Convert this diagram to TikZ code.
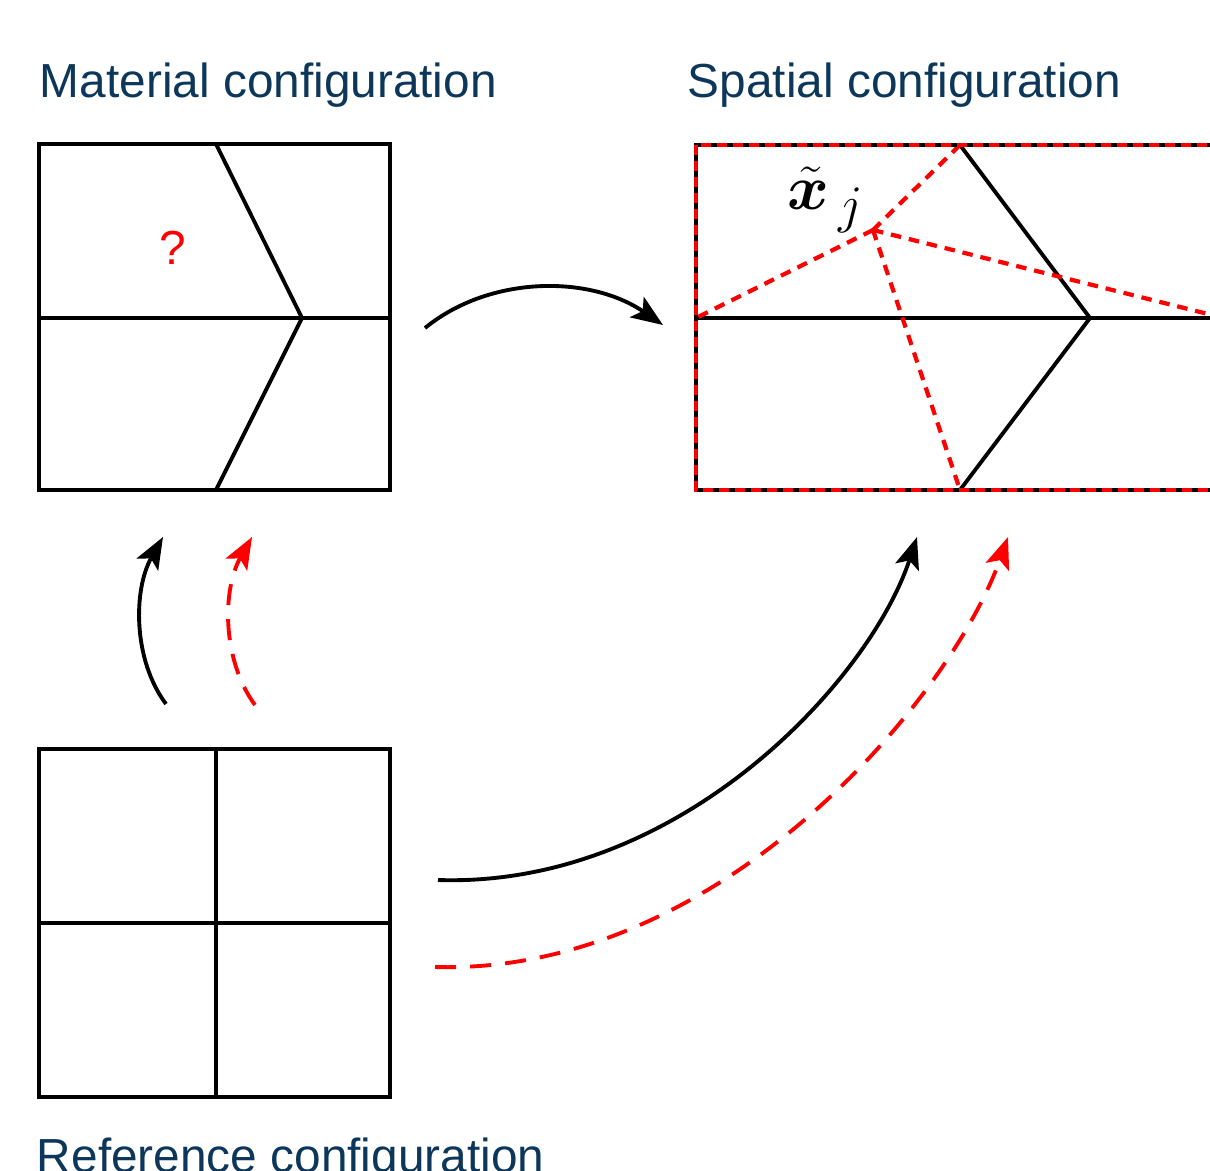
\documentclass[tikz,border=0pt]{standalone}
\usepackage{fontspec}
\setmainfont{Liberation Sans}
\usepackage{bm}
\usetikzlibrary{arrows.meta}
\definecolor{navy}{RGB}{13,55,90}
\definecolor{rd}{RGB}{255,0,0}
\begin{document}
\begin{tikzpicture}[x=0.02cm,y=-0.02cm,
  line width=2.2pt,
  title/.style={inner sep=0pt,anchor=base west,text=navy,font=\fontsize{27.2}{32}\selectfont},
  tip/.style={-{Stealth[length=18pt,width=14pt,inset=4pt]}},
  arr/.style={tip,black},
  rarr/.style={tip,rd,dash pattern=on 12pt off 8pt},
  rdash/.style={rd,line width=2.4pt,dash pattern=on 6pt off 4.5pt},
  rborder/.style={rd,dash pattern=on 5.7pt off 3.4pt}]
\clip (0,0) rectangle (1210,1170);
% titles
\node[title] (tmat) at (38,97) {Material configuration};
\node[title] (tspa) at (686,97) {Spatial configuration};
\node[title] (tref) at (35,1172) {Reference configuration};
% material box
\coordinate (m1) at (39,144); \coordinate (m2) at (390,490);
\draw (m1) rectangle (m2);
\coordinate (mk1) at (216,144); \coordinate (mk) at (302,318); \coordinate (mk2) at (216,490);
\coordinate (mL) at (39,318); \coordinate (mR) at (390,318);
\draw (mL) -- (mR);
\draw (mk1) -- (mk) -- (mk2);
\node[text=rd,font=\fontsize{27.2}{32}\selectfont,inner sep=0pt] (q) at (173,248) {?};
% spatial box
\coordinate (s1) at (696,145); \coordinate (s2) at (1230,490);
\coordinate (sL) at (696,318); \coordinate (sR) at (1230,318);
\coordinate (sk1) at (960,145); \coordinate (sk) at (1090,318); \coordinate (sk2) at (960,490);
\draw (sL) -- (sR);
\draw (sk1) -- (sk) -- (sk2);
\coordinate (xj) at (873,230);
\coordinate (rR) at (1212,315);
\draw[rdash] (xj) -- (sk1);
\draw[rdash] (xj) -- (sL);
\draw[rdash] (xj) -- (rR);
\draw[rdash] (xj) -- (sk2);
\draw (s1) rectangle (s2);
\draw[rborder] (s1) rectangle (s2);
\node[inner sep=0pt] (xlab) at (826,200) {\scalebox{1.45}{\Huge$\tilde{\bm{x}}_{\,j}$}};
% reference box
\coordinate (r1) at (39,749); \coordinate (r2) at (390,1097);
\draw (r1) rectangle (r2);
\coordinate (rT) at (216,749); \coordinate (rB) at (216,1097);
\coordinate (rl) at (39,923); \coordinate (rr) at (390,923);
\draw (rT) -- (rB);
\draw (rl) -- (rr);
% arrows
\coordinate (a1s) at (425,328); \coordinate (a1e) at (663,325);
\draw[arr] (a1s) .. controls (490,275) and (590,275) .. (a1e);
\coordinate (a2s) at (166,704); \coordinate (a2e) at (163,537);
\draw[arr] (a2s) .. controls (133,660) and (133,590) .. (a2e);
\coordinate (a3s) at (255,705); \coordinate (a3e) at (252,537);
\draw[rarr] (a3s) .. controls (222,660) and (222,590) .. (a3e);
\coordinate (a4s) at (438,880); \coordinate (a4e) at (917,537);
\draw[arr] (a4s) .. controls (680,888) and (870,680) .. (a4e);
\coordinate (a5s) at (435,967); \coordinate (a5e) at (1008,537);
\draw[rarr] (a5s) .. controls (720,975) and (950,700) .. (a5e);
\end{tikzpicture}
\end{document}
